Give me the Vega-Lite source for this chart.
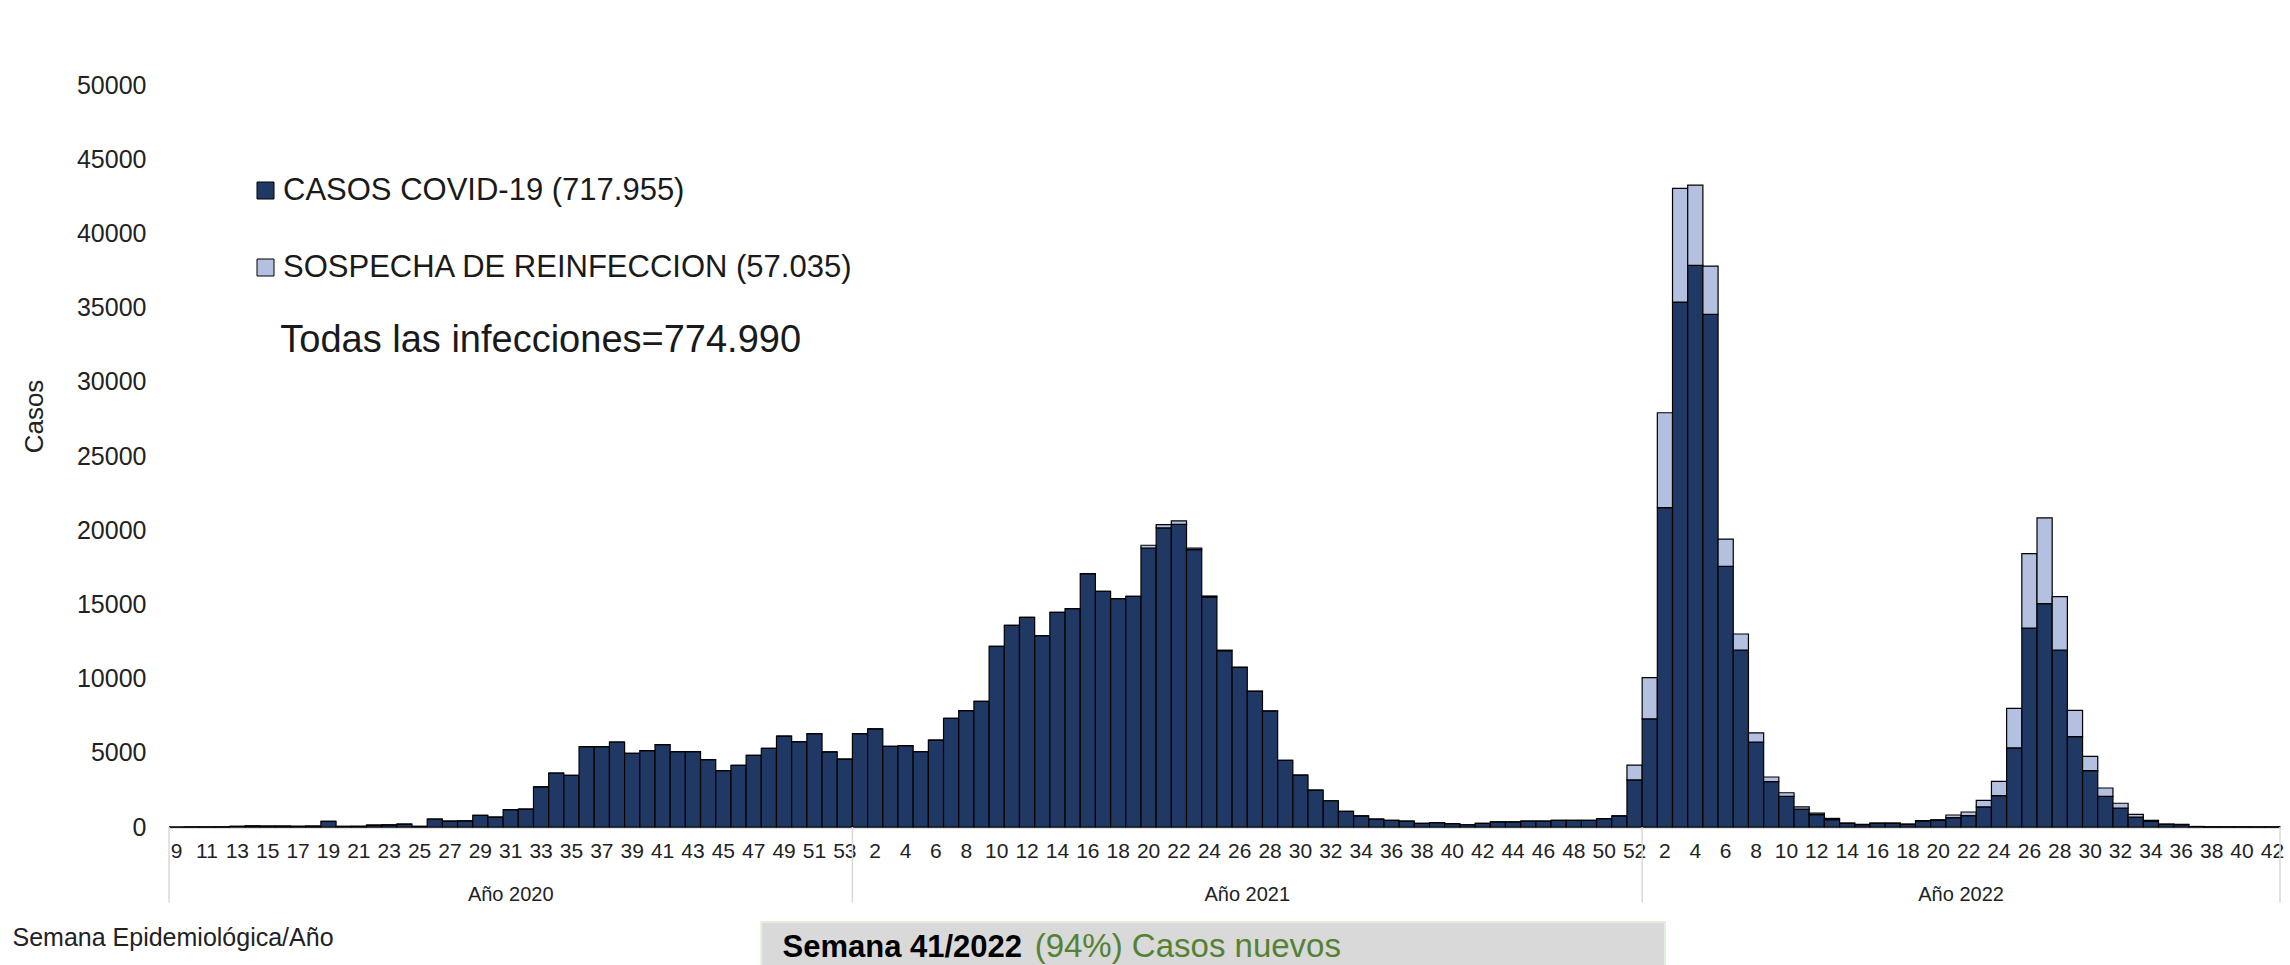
{
  "$schema": "https://vega.github.io/schema/vega-lite/v6.json",
  "width": 2111,
  "height": 816,
  "autosize": {"type": "none"},
  "padding": {"left": 169, "top": 11, "right": 10, "bottom": 138},
  "background": "white",
  "config": {"view": {"stroke": null}, "font": "Liberation Sans", "text": {"font": "Liberation Sans"}},
  "datasets": {
    "weeks": [
      {"k":"2020-09","c":0,"r":0},{"k":"2020-10","c":2,"r":0},{"k":"2020-11","c":5,"r":0},{"k":"2020-12","c":10,"r":0},
      {"k":"2020-13","c":40,"r":0},{"k":"2020-14","c":70,"r":0},{"k":"2020-15","c":60,"r":0},{"k":"2020-16","c":60,"r":0},
      {"k":"2020-17","c":50,"r":0},{"k":"2020-18","c":60,"r":0},{"k":"2020-19","c":380,"r":0},{"k":"2020-20","c":40,"r":0},
      {"k":"2020-21","c":50,"r":0},{"k":"2020-22","c":130,"r":0},{"k":"2020-23","c":140,"r":0},{"k":"2020-24","c":200,"r":0},
      {"k":"2020-25","c":40,"r":0},{"k":"2020-26","c":540,"r":0},{"k":"2020-27","c":400,"r":0},{"k":"2020-28","c":410,"r":0},
      {"k":"2020-29","c":790,"r":0},{"k":"2020-30","c":670,"r":0},{"k":"2020-31","c":1170,"r":0},{"k":"2020-32","c":1210,"r":0},
      {"k":"2020-33","c":2700,"r":0},{"k":"2020-34","c":3640,"r":0},{"k":"2020-35","c":3480,"r":0},{"k":"2020-36","c":5420,"r":0},
      {"k":"2020-37","c":5420,"r":0},{"k":"2020-38","c":5730,"r":0},{"k":"2020-39","c":4960,"r":0},{"k":"2020-40","c":5150,"r":0},
      {"k":"2020-41","c":5550,"r":0},{"k":"2020-42","c":5080,"r":0},{"k":"2020-43","c":5080,"r":0},{"k":"2020-44","c":4540,"r":0},
      {"k":"2020-45","c":3800,"r":0},{"k":"2020-46","c":4160,"r":0},{"k":"2020-47","c":4830,"r":0},{"k":"2020-48","c":5300,"r":0},
      {"k":"2020-49","c":6130,"r":0},{"k":"2020-50","c":5750,"r":0},{"k":"2020-51","c":6290,"r":0},{"k":"2020-52","c":5060,"r":0},
      {"k":"2020-53","c":4580,"r":0},
      {"k":"2021-01","c":6290,"r":0},{"k":"2021-02","c":6610,"r":0},{"k":"2021-03","c":5440,"r":0},{"k":"2021-04","c":5480,"r":0},
      {"k":"2021-05","c":5080,"r":0},{"k":"2021-06","c":5860,"r":0},{"k":"2021-07","c":7330,"r":0},{"k":"2021-08","c":7840,"r":0},
      {"k":"2021-09","c":8470,"r":0},{"k":"2021-10","c":12180,"r":0},{"k":"2021-11","c":13590,"r":0},{"k":"2021-12","c":14130,"r":0},
      {"k":"2021-13","c":12900,"r":0},{"k":"2021-14","c":14470,"r":0},{"k":"2021-15","c":14720,"r":0},{"k":"2021-16","c":17080,"r":0},
      {"k":"2021-17","c":15890,"r":0},{"k":"2021-18","c":15390,"r":0},{"k":"2021-19","c":15550,"r":0},{"k":"2021-20","c":18790,"r":200},
      {"k":"2021-21","c":20160,"r":220},{"k":"2021-22","c":20400,"r":230},{"k":"2021-23","c":18700,"r":100},{"k":"2021-24","c":15500,"r":70},
      {"k":"2021-25","c":11880,"r":40},{"k":"2021-26","c":10750,"r":30},{"k":"2021-27","c":9140,"r":20},{"k":"2021-28","c":7820,"r":10},
      {"k":"2021-29","c":4500,"r":0},{"k":"2021-30","c":3490,"r":0},{"k":"2021-31","c":2490,"r":0},{"k":"2021-32","c":1770,"r":0},
      {"k":"2021-33","c":1050,"r":0},{"k":"2021-34","c":750,"r":0},{"k":"2021-35","c":530,"r":0},{"k":"2021-36","c":450,"r":0},
      {"k":"2021-37","c":390,"r":0},{"k":"2021-38","c":250,"r":0},{"k":"2021-39","c":290,"r":0},{"k":"2021-40","c":230,"r":0},
      {"k":"2021-41","c":150,"r":0},{"k":"2021-42","c":240,"r":0},{"k":"2021-43","c":350,"r":0},{"k":"2021-44","c":340,"r":0},
      {"k":"2021-45","c":400,"r":0},{"k":"2021-46","c":400,"r":0},{"k":"2021-47","c":450,"r":0},{"k":"2021-48","c":450,"r":0},
      {"k":"2021-49","c":450,"r":0},{"k":"2021-50","c":560,"r":0},{"k":"2021-51","c":750,"r":0},{"k":"2021-52","c":3170,"r":1000},
      {"k":"2022-01","c":7290,"r":2780},{"k":"2022-02","c":21530,"r":6390},{"k":"2022-03","c":35380,"r":7660},{"k":"2022-04","c":37850,"r":5410},
      {"k":"2022-05","c":34550,"r":3260},{"k":"2022-06","c":17570,"r":1840},{"k":"2022-07","c":11930,"r":1080},{"k":"2022-08","c":5730,"r":610},
      {"k":"2022-09","c":3060,"r":310},{"k":"2022-10","c":2070,"r":240},{"k":"2022-11","c":1210,"r":140},{"k":"2022-12","c":830,"r":110},
      {"k":"2022-13","c":500,"r":80},{"k":"2022-14","c":240,"r":30},{"k":"2022-15","c":160,"r":20},{"k":"2022-16","c":240,"r":30},
      {"k":"2022-17","c":240,"r":30},{"k":"2022-18","c":180,"r":20},{"k":"2022-19","c":390,"r":40},{"k":"2022-20","c":440,"r":50},
      {"k":"2022-21","c":630,"r":180},{"k":"2022-22","c":760,"r":250},{"k":"2022-23","c":1350,"r":450},{"k":"2022-24","c":2110,"r":970},
      {"k":"2022-25","c":5330,"r":2670},{"k":"2022-26","c":13410,"r":5020},{"k":"2022-27","c":15050,"r":5780},{"k":"2022-28","c":11930,"r":3600},
      {"k":"2022-29","c":6090,"r":1770},{"k":"2022-30","c":3800,"r":960},{"k":"2022-31","c":2070,"r":560},{"k":"2022-32","c":1280,"r":320},
      {"k":"2022-33","c":670,"r":180},{"k":"2022-34","c":380,"r":70},{"k":"2022-35","c":180,"r":20},{"k":"2022-36","c":160,"r":20},
      {"k":"2022-37","c":30,"r":5},{"k":"2022-38","c":15,"r":0},{"k":"2022-39","c":10,"r":0},{"k":"2022-40","c":8,"r":0},
      {"k":"2022-41","c":5,"r":0},{"k":"2022-42","c":3,"r":0}
    ]
  },
  "layer": [
    {
      "data": {"name": "weeks"},
      "transform": [{"fold": ["c", "r"]}],
      "mark": {"type": "bar", "stroke": "#000000", "strokeWidth": 1.2},
      "encoding": {
        "x": {
          "field": "k", "type": "ordinal",
          "scale": {"paddingInner": 0, "paddingOuter": 0},
          "axis": {
            "title": "Semana Epidemiológica/Año",
            "titleFontSize": 25, "titleFontWeight": "normal", "titleColor": "#222222",
            "titleAnchor": "start", "titleAlign": "left", "titleBaseline": "middle",
            "titleX": -157, "titleY": 110,
            "labelExpr": "((substring(datum.value,0,4)=='2020') == (toNumber(substring(datum.value,5))%2==1)) ? toNumber(substring(datum.value,5)) + '' : ''",
            "labelAngle": 0, "labelOverlap": false, "labelFontSize": 21, "labelColor": "#222222",
            "labelPadding": 13, "ticks": false, "domainColor": "#7f7f7f", "domainWidth": 1.5, "grid": false
          }
        },
        "y": {
          "field": "value", "type": "quantitative", "stack": "zero",
          "scale": {"domain": [0, 55000], "nice": false},
          "axis": {
            "values": [0, 5000, 10000, 15000, 20000, 25000, 30000, 35000, 40000, 45000, 50000],
            "format": "d", "labelFontSize": 25, "labelColor": "#222222", "labelPadding": 23,
            "ticks": false, "domain": false, "grid": false,
            "title": "Casos", "titleFontSize": 26, "titleFontWeight": "normal", "titleColor": "#222222",
            "titleX": -135, "titleY": 405, "titleAngle": -90, "titleAlign": "center", "titleBaseline": "middle"
          }
        },
        "color": {
          "field": "key", "type": "nominal",
          "scale": {"domain": ["c", "r"], "range": ["#203864", "#b4c0e0"]},
          "legend": {
            "orient": "none", "legendX": 81, "legendY": 164, "direction": "vertical",
            "title": null, "padding": 0,
            "labelExpr": "datum.value == 'c' ? 'CASOS COVID-19 (717.955)' : 'SOSPECHA DE REINFECCION (57.035)'",
            "labelFontSize": 31, "labelColor": "#1a1a1a", "labelOffset": 2, "labelLimit": 0,
            "symbolType": "square", "symbolSize": 289, "symbolStrokeColor": "#000000", "symbolStrokeWidth": 1,
            "symbolOpacity": 1, "rowPadding": 45
          }
        },
        "order": {"field": "key", "type": "nominal"}
      }
    },
    {
      "data": {"name": "weeks"},
      "transform": [{"filter": "datum.k=='2020-09' || datum.k=='2021-01' || datum.k=='2022-01'"}],
      "mark": {"type": "rule", "color": "#d9d9d9", "strokeWidth": 1.5},
      "encoding": {
        "x": {"field": "k", "type": "ordinal", "bandPosition": 0},
        "y": {"datum": 0, "type": "quantitative"},
        "y2": {"datum": -5100}
      }
    },
    {
      "data": {"name": "weeks"},
      "transform": [{"filter": "datum.k=='2022-42'"}],
      "mark": {"type": "rule", "color": "#d9d9d9", "strokeWidth": 1.5},
      "encoding": {
        "x": {"field": "k", "type": "ordinal", "bandPosition": 1},
        "y": {"datum": 0, "type": "quantitative"},
        "y2": {"datum": -5100}
      }
    },
    {
      "data": {"name": "weeks"},
      "transform": [{"filter": "datum.k=='2020-31'"}],
      "mark": {"type": "text", "fontSize": 20, "color": "#222222", "baseline": "middle", "align": "center"},
      "encoding": {
        "x": {"field": "k", "type": "ordinal", "bandPosition": 0.5},
        "y": {"datum": -4600, "type": "quantitative"},
        "text": {"value": "Año 2020"}
      }
    },
    {
      "data": {"name": "weeks"},
      "transform": [{"filter": "datum.k=='2021-27' || datum.k=='2022-22'"}],
      "mark": {"type": "text", "fontSize": 20, "color": "#222222", "baseline": "middle", "align": "center"},
      "encoding": {
        "x": {"field": "k", "type": "ordinal", "bandPosition": 0},
        "y": {"datum": -4600, "type": "quantitative"},
        "text": {"condition": {"test": "datum.k=='2021-27'", "value": "Año 2021"}, "value": "Año 2022"}
      }
    },
    {
      "data": {"values": [{"t": "Todas las infecciones=774.990"}]},
      "mark": {"type": "text", "fontSize": 38, "color": "#1a1a1a", "baseline": "middle", "align": "left", "dx": 5},
      "encoding": {
        "x": {"datum": "2020-16", "type": "ordinal", "bandPosition": 0},
        "y": {"datum": 32730, "type": "quantitative"},
        "text": {"field": "t"}
      }
    },
    {
      "data": {"values": [{"t": "box"}]},
      "mark": {"type": "rect", "fill": "#d9d9d9", "stroke": "#e2f0d9", "strokeWidth": 2},
      "encoding": {
        "x": {"datum": "2020-48", "type": "ordinal", "bandPosition": 0},
        "x2": {"datum": "2022-02"},
        "y": {"datum": -6400, "type": "quantitative"},
        "y2": {"datum": -10000}
      }
    },
    {
      "data": {"values": [{"t": "Semana 41/2022"}]},
      "mark": {"type": "text", "fontSize": 31, "fontWeight": "bold", "color": "#000000", "baseline": "alphabetic", "align": "left", "dx": 6},
      "encoding": {
        "x": {"datum": "2020-49", "type": "ordinal", "bandPosition": 0},
        "y": {"datum": -8760, "type": "quantitative"},
        "text": {"field": "t"}
      }
    },
    {
      "data": {"values": [{"t": "(94%) Casos nuevos"}]},
      "mark": {"type": "text", "fontSize": 33, "color": "#548235", "baseline": "alphabetic", "align": "left", "dx": 0},
      "encoding": {
        "x": {"datum": "2021-13", "type": "ordinal", "bandPosition": 0},
        "y": {"datum": -8760, "type": "quantitative"},
        "text": {"field": "t"}
      }
    }
  ]
}
